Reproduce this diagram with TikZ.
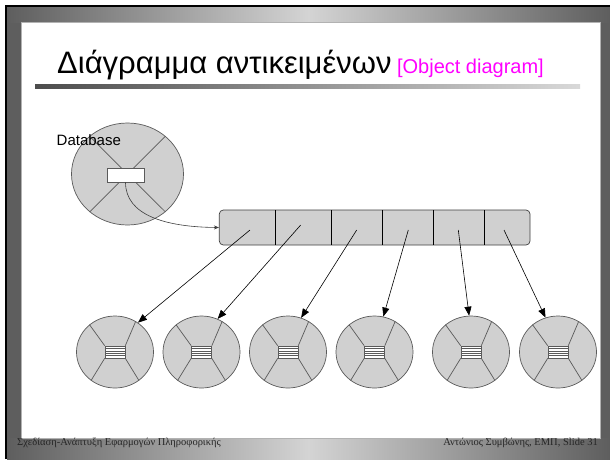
\documentclass[tikz,border=0pt]{standalone}
\usepackage{fontspec}
\setmainfont{Liberation Serif}
\newfontfamily\arial{Liberation Sans}
\usetikzlibrary{shapes.geometric,arrows.meta,calc}
\definecolor{framedark}{HTML}{5E5E5E}
\definecolor{framelight}{HTML}{D4D4D4}
\definecolor{objfill}{HTML}{D0D0D0}
\definecolor{objline}{HTML}{5A5A5A}
\definecolor{arrline}{HTML}{404040}
\definecolor{pinktext}{HTML}{FF00FF}
\begin{document}
\begin{tikzpicture}[x=1pt,y=-1pt,
  objcirc/.style={ellipse, draw=objline, fill=objfill, line width=0.7pt, inner sep=0pt, minimum width=77pt, minimum height=72pt},
  stripebox/.style={draw=objline, fill=white, line width=0.6pt, inner sep=0pt, minimum width=20pt, minimum height=12pt},
  ptr/.style={-{Triangle[length=9pt,width=7pt]}, line width=0.6pt, black},
  inner/.style={objline, line width=0.7pt}]
\useasboundingbox (0,0) rectangle (610,459);
% frame
\fill[white] (0,0) rectangle (610,459);
\fill[framedark] (5,5) rectangle (610,459);
\shade[left color=framedark, right color=framedark, middle color=framelight] (7,7) rectangle (610,22);
\shade[left color=framedark, right color=framedark, middle color=framelight] (7,438) rectangle (610,459);
\fill[black] (5,5) rectangle (610,7);
\fill[black] (5,5) rectangle (7,459);
\fill[white] (21,22) rectangle (600,438);
\draw[black!30, line width=1pt] (21,22) rectangle (600,438);
% title
\node[anchor=base west, font=\arial\fontsize{31}{31}\selectfont, inner sep=0pt] (title) at (57,73) {Διάγραμμα αντικειμένων};
\node[anchor=base west, font=\arial\fontsize{20}{20}\selectfont, text=pinktext, inner sep=0pt] (sub) at ($(title.base east)+(5,0)$) {[Object diagram]};
\shade[left color=black!70, right color=black!15] (35,84) rectangle (580,88);
% database object
\node[ellipse, draw=objline, fill=objfill, line width=0.7pt, inner sep=0pt, minimum width=112pt, minimum height=102pt] (db) at (127.5,174) {};
\draw[inner] (db.135) -- (db.315) (db.45) -- (db.225);
\node[draw=objline, fill=white, line width=0.7pt, inner sep=0pt, minimum width=37pt, minimum height=14pt] (slot) at (125.5,175) {};
\node[anchor=base west, font=\arial\fontsize{15}{15}\selectfont, inner sep=0pt] (dblabel) at (56.5,145) {Database};
% array
\node[draw=arrline, fill=objfill, line width=0.7pt, rounded corners=4pt, inner sep=0pt, minimum width=310.7pt, minimum height=35pt] (arr) at (374.65,227.5) {};
\foreach \dx in {275.7,331.7,382.3,433.3,484.3}
  \draw[black, line width=0.7pt] (\dx,210) -- (\dx,245);
\draw[-{Stealth[length=5pt,width=4pt]}, arrline, line width=0.6pt] (slot.south) .. controls (125.5,215) and (165,227) .. (arr.west);
% element objects
\foreach \i/\x in {1/115,2/201.5,3/288,4/374.5,5/471,6/558} {
  \node[objcirc] (c\i) at (\x,352) {};
  \node[stripebox] (s\i) at (c\i.center) {};
  \draw[inner] (s\i.north west) -- (c\i.133);
  \draw[inner] (s\i.north east) -- (c\i.56);
  \draw[inner] (s\i.south west) -- (c\i.230);
  \draw[inner] (s\i.south east) -- (c\i.310);
  \foreach \k in {-3.6,-1.2,1.2,3.6}
    \draw[objline, line width=0.5pt] ($(s\i.center)+(-10,\k)$) -- ++(20,0);
}
% pointers
\coordinate (p1) at (250,230);
\coordinate (p2) at (300.7,225);
\coordinate (p3) at (356.7,230);
\coordinate (p4) at (408.3,230);
\coordinate (p5) at (458.3,230);
\coordinate (p6) at (504,230);
\draw[ptr] (p1) -- (c1.52);
\draw[ptr] (p2) -- (c2.64);
\draw[ptr] (p3) -- (c3.69);
\draw[ptr] (p4) -- (c4.76);
\draw[ptr] (p5) -- (c5.93);
\draw[ptr] (p6) -- (c6.110);
% footer
\node[anchor=base west, font=\fontsize{10.5}{10.5}\selectfont, text=black!85, inner sep=0pt] (footl) at (17,445) {Σχεδίαση-Ανάπτυξη Εφαρμογών Πληροφορικής};
\node[anchor=base east, font=\fontsize{10.5}{10.5}\selectfont, text=black!85, inner sep=0pt] (footr) at (598,445) {Αντώνιος Συμβώνης, ΕΜΠ, Slide 31};
\end{tikzpicture}
\end{document}
